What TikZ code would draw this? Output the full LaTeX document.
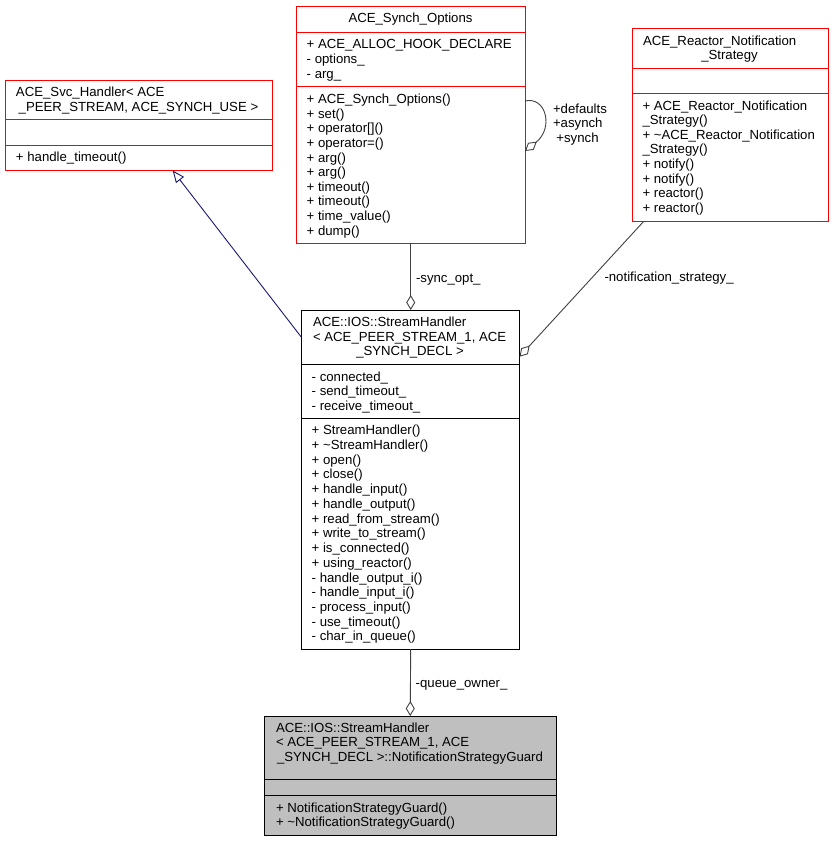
\documentclass[tikz,border=0pt]{standalone}
\usepackage{fontspec}
\setmainfont{Liberation Sans}
\usetikzlibrary{arrows.meta,calc}
\definecolor{edgegray}{HTML}{404040}
\definecolor{inhblue}{HTML}{191970}
\definecolor{guardfill}{HTML}{BFBFBF}
\newcommand\txtl[4]{\node[anchor=base west] (#1) at (#2,#3) {#4};}
\newcommand\txtc[4]{\node[anchor=base] (#1) at (#2,#3) {#4};}
\begin{document}
\begin{tikzpicture}[x=1pt,y=-1pt,
  every node/.style={inner sep=0pt, outer sep=0pt, font=\fontsize{13.2}{15}\selectfont},
  box/.style={draw=red, line width=1pt, rectangle, anchor=north west, inner sep=0pt},
  gbox/.style={draw=black, fill=guardfill, line width=1pt, rectangle, anchor=north west, inner sep=0pt},
  bbox/.style={draw=black, line width=1pt, rectangle, anchor=north west, inner sep=0pt},
  divr/.style={draw=red, line width=1pt},
  divk/.style={draw=black, line width=1pt},
  agg/.style={draw=edgegray, line width=0.9pt, {Diamond[open, length=15pt, width=9pt, line width=0.9pt]}-},
  inh/.style={draw=inhblue, line width=0.9pt, {Triangle[open, length=12pt, width=10pt, line width=0.9pt]}-}
]
\useasboundingbox (0,0) rectangle (833,843);

% ---------- Box A: ACE_Svc_Handler
\node[box, minimum width=267pt, minimum height=90.5pt] (A) at (5,80) {};
\draw[divr] ($(A.north west)+(0,39.3)$) -- ($(A.north east)+(0,39.3)$);
\draw[divr] ($(A.north west)+(0,65.7)$) -- ($(A.north east)+(0,65.7)$);
\txtl{At1}{16}{96}{ACE\_Svc\_Handler< ACE}
\txtc{At2}{138.5}{111.3}{\_PEER\_STREAM, ACE\_SYNCH\_USE >}
\txtl{Am1}{16}{161.5}{+ handle\_timeout()}

% ---------- Box B: ACE_Synch_Options
\node[box, minimum width=229pt, minimum height=236pt] (B) at (296,7) {};
\draw[divr] ($(B.north west)+(0,25.3)$) -- ($(B.north east)+(0,25.3)$);
\draw[divr] ($(B.north west)+(0,79.7)$) -- ($(B.north east)+(0,79.7)$);
\txtc{Bt}{410.5}{23}{ACE\_Synch\_Options}
\txtl{Ba1}{306.7}{48.6}{+ ACE\_ALLOC\_HOOK\_DECLARE}
\txtl{Ba2}{306.7}{63.3}{- options\_}
\txtl{Ba3}{306.7}{78}{- arg\_}
\foreach \t [count=\i from 0] in {+ ACE\_Synch\_Options(), + set(), + operator[](), + operator=(), + arg(), + arg(), + timeout(), + timeout(), + time\_value(), + dump()}
  \node[anchor=base west] (Bm\i) at (306.7,103.6+\i*14.6) {\t};

% ---------- Box C: ACE_Reactor_Notification_Strategy
\node[box, minimum width=196pt, minimum height=193.5pt] (C) at (632.3,28.3) {};
\draw[divr] ($(C.north west)+(0,40)$) -- ($(C.north east)+(0,40)$);
\draw[divr] ($(C.north west)+(0,65)$) -- ($(C.north east)+(0,65)$);
\txtl{Ct1}{643}{45.3}{ACE\_Reactor\_Notification}
\txtc{Ct2}{729.5}{59.8}{\_Strategy}
\foreach \t [count=\i from 0] in {+ ACE\_Reactor\_Notification, \_Strategy(), + \textasciitilde ACE\_Reactor\_Notification, \_Strategy(), + notify(), + notify(), + reactor(), + reactor()}
  \node[anchor=base west] (Cm\i) at (642.5,110.3+\i*14.55) {\t};

% ---------- Box D: ACE::IOS::StreamHandler
\node[bbox, minimum width=218.5pt, minimum height=339pt] (D) at (301,310) {};
\draw[divk] ($(D.north west)+(0,54.3)$) -- ($(D.north east)+(0,54.3)$);
\draw[divk] ($(D.north west)+(0,108.3)$) -- ($(D.north east)+(0,108.3)$);
\txtl{Dt1}{313}{326.8}{ACE::IOS::StreamHandler}
\txtl{Dt2}{313}{341.3}{< ACE\_PEER\_STREAM\_1, ACE}
\txtc{Dt3}{410}{355.8}{\_SYNCH\_DECL >}
\txtl{Da1}{311.7}{381.3}{- connected\_}
\txtl{Da2}{311.7}{395.8}{- send\_timeout\_}
\txtl{Da3}{311.7}{410.3}{- receive\_timeout\_}
\foreach \t [count=\i from 0] in {+ StreamHandler(), + \textasciitilde StreamHandler(), + open(), + close(), + handle\_input(), + handle\_output(), + read\_from\_stream(), + write\_to\_stream(), + is\_connected(), + using\_reactor(), - handle\_output\_i(), - handle\_input\_i(), - process\_input(), - use\_timeout(), - char\_in\_queue()}
  \node[anchor=base west] (Dm\i) at (311.7,434.6+\i*14.74) {\t};

% ---------- Box E: NotificationStrategyGuard
\node[gbox, minimum width=291.5pt, minimum height=119pt] (E) at (264.5,716) {};
\draw[divk] ($(E.north west)+(0,63)$) -- ($(E.north east)+(0,63)$);
\draw[divk] ($(E.north west)+(0,79.7)$) -- ($(E.north east)+(0,79.7)$);
\txtl{Et1}{276}{732}{ACE::IOS::StreamHandler}
\txtl{Et2}{276}{746.8}{< ACE\_PEER\_STREAM\_1, ACE}
\txtc{Et3}{410}{761.3}{\_SYNCH\_DECL >::NotificationStrategyGuard}
\txtl{Em1}{276}{812}{+ NotificationStrategyGuard()}
\txtl{Em2}{276}{826.7}{+ \textasciitilde NotificationStrategyGuard()}

% ---------- Connectors
% inheritance D -> A
\draw[inh] ($(A.south west)+(167.7,0)$) -- ($(D.north west)+(0,26.7)$);
% sync_opt_ : B -> D
\draw[agg] ($(D.north west)+(109.7,0)$) -- ($(B.south west)+(114.7,0)$);
\txtl{Lsync}{416}{282.5}{-sync\_opt\_}
% notification_strategy_ : C -> D
\draw[agg] ($(D.north east)+(0,46.7)$) -- ($(C.south west)+(11,0)$);
\txtl{Lnot}{604.5}{281.5}{-notification\_strategy\_}
% queue_owner_ : D -> E
\draw[agg] ($(E.north west)+(145.7,0)$) -- ($(D.south west)+(109.7,0)$);
\txtl{Lqueue}{415.7}{687.5}{-queue\_owner\_}
% self loop on B
\draw[agg] ($(B.north east)+(0,144)$) .. controls (554,128) and (546,96) .. ($(B.north east)+(0,94)$);
\txtl{Ls1}{553}{113}{+defaults}
\txtl{Ls2}{553}{127.5}{+asynch}
\txtc{Ls3}{577.5}{142}{+synch}
\end{tikzpicture}
\end{document}
